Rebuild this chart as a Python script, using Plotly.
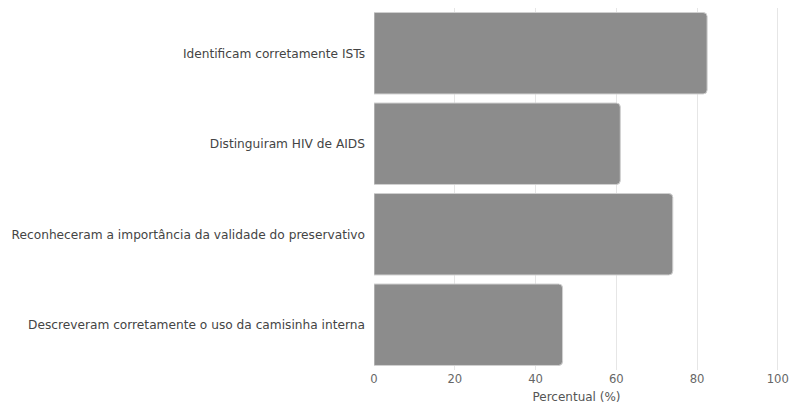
import plotly.graph_objects as go

categories = [
    "Identificam corretamente ISTs",
    "Distinguiram HIV de AIDS",
    "Reconheceram a importância da validade do preservativo",
    "Descreveram corretamente o uso da camisinha interna",
]
values = [82.5, 61, 74, 46.7]
x_ticks = [0, 20, 40, 60, 80, 100]

fig = go.Figure(go.Bar(
    y=categories,
    x=values,
    orientation="h",
    marker=dict(color="#8c8c8c", line=dict(color="#d0d0d0", width=1)),
    hoverinfo="x+y",
))

fig.update_layout(
    width=790, height=405,
    margin=dict(l=374, r=11, t=8, b=35, autoexpand=False),
    paper_bgcolor="white", plot_bgcolor="white",
    bargap=0.1,
    barcornerradius=4,
    font=dict(family="DejaVu Sans, sans-serif", size=12.2, color="#555555"),
    showlegend=False,
)
fig.update_xaxes(
    range=[0, 100.3], tickvals=x_ticks, showgrid=True, gridcolor="#e6e6e6", gridwidth=1,
    zeroline=False, showline=False, ticks="", automargin=False,
    ticklabeloverflow="allow",
    title=dict(text="Percentual (%)", standoff=8, font=dict(size=12, color="#555555")),
    tickfont=dict(size=11.6, color="#666666"),
)
fig.update_yaxes(
    autorange="reversed", showgrid=False, zeroline=False, showline=False, ticks="",
    automargin=False, ticklabelstandoff=8,
    tickfont=dict(size=12.2, color="#444444"),
)

fig.write_html(
    "out.html",
    config={"displayModeBar": False},
    post_script="document.body.style.margin='0';document.body.style.overflow='hidden';",
)
